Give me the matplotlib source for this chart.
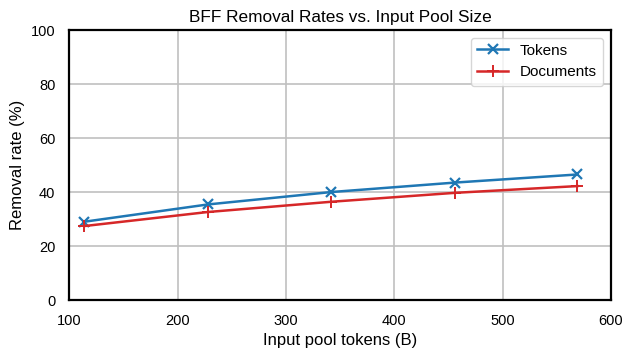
import matplotlib
matplotlib.use("Agg")
import matplotlib.pyplot as plt

plt.rcParams["font.family"] = ["Liberation Sans", "DejaVu Sans"]

# =====================
# DATA
# =====================

pool_tokens = [114, 228, 342, 456, 569]
tokens_removed = [29.0, 35.4, 40.0, 43.5, 46.5]
docs_removed = [27.4, 32.6, 36.4, 39.7, 42.2]

# =====================
# PLOT
# =====================

fig, ax = plt.subplots(figsize=(6.35, 3.58), dpi=100)

ax.plot(pool_tokens, tokens_removed, marker="x", color="#1f77b4",
        linewidth=1.8, markersize=7, markeredgewidth=1.6, label="Tokens")
ax.plot(pool_tokens, docs_removed, marker="+", color="#d62728",
        linewidth=1.8, markersize=8, markeredgewidth=1.4, label="Documents")

ax.set_xlim(100, 600)
ax.set_ylim(0, 100)
ax.grid(True, color="#c0c0c0", linewidth=1.2)

for s in ax.spines.values():
    s.set_linewidth(1.6)
    s.set_color("black")

ax.tick_params(labelsize=10.5, length=0, pad=10)
ax.set_xlabel("Input pool tokens (B)", fontsize=12)
ax.set_ylabel("Removal rate (%)", fontsize=12)
ax.set_title("BFF Removal Rates vs. Input Pool Size", fontsize=12.4)

ax.legend(loc="upper right", fontsize=11)

fig.subplots_adjust(left=0.109, right=0.962, top=0.916, bottom=0.162)
fig.savefig("out.png", dpi=100)
